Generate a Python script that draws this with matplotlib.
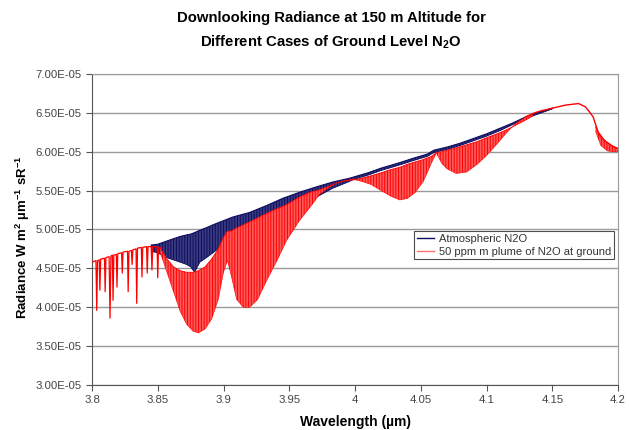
import numpy as np
import matplotlib.pyplot as plt
from matplotlib.lines import Line2D
from matplotlib.ticker import FuncFormatter, MultipleLocator

plt.rcParams['font.family'] = ['Liberation Sans', 'DejaVu Sans']
plt.rcParams['mathtext.fontset'] = 'custom'
plt.rcParams['mathtext.rm'] = 'Liberation Sans'
plt.rcParams['mathtext.bf'] = 'Liberation Sans:bold'
plt.rcParams['hatch.linewidth'] = 0.7

SCALE = 1e-5  # radiance values below are in units of 1E-05

# shared spectrum below 3.855 um: continuum with isolated absorption lines
sparse_wl = [3.800, 3.8030, 3.8036, 3.8042, 3.8055, 3.8060, 3.8066, 3.8095, 3.8100, 3.8106,
             3.8130, 3.8137, 3.8144, 3.8155, 3.8160, 3.8166, 3.8185, 3.8190, 3.8196, 3.8225,
             3.8230, 3.8236, 3.8270, 3.8275, 3.8281, 3.8300, 3.8305, 3.8311, 3.8335, 3.8340,
             3.8346, 3.8375, 3.8380, 3.8386, 3.8415, 3.8420, 3.8426, 3.8450, 3.8456, 3.8462,
             3.8495, 3.8500, 3.8506, 3.8530]
sparse_rad = [4.58, 4.60, 3.96, 4.60, 4.61, 4.22, 4.62, 4.63, 4.20, 4.64,
              4.65, 3.86, 4.66, 4.67, 4.09, 4.67, 4.68, 4.26, 4.69, 4.70,
              4.44, 4.71, 4.72, 4.20, 4.72, 4.73, 4.55, 4.74, 4.75, 4.05,
              4.76, 4.77, 4.39, 4.77, 4.78, 4.44, 4.78, 4.78, 4.48, 4.78,
              4.78, 4.38, 4.77, 4.76]

# atmospheric N2O: band of line structure (upper / lower envelope)
blue_wl = [3.845, 3.850, 3.855, 3.860, 3.867, 3.872, 3.875, 3.878, 3.882, 3.888, 3.892, 3.895,
           3.907, 3.920, 3.933, 3.945, 3.958, 3.971, 3.983, 3.996, 4.000, 4.010, 4.020,
           4.034, 4.045, 4.055, 4.060, 4.070, 4.080, 4.090, 4.100, 4.110, 4.120, 4.130,
           4.140, 4.150]
blue_hi = [4.80, 4.81, 4.84, 4.87, 4.91, 4.93, 4.94, 4.96, 4.99, 5.03, 5.06, 5.08,
           5.16, 5.22, 5.31, 5.40, 5.48, 5.55, 5.61, 5.66, 5.68, 5.73, 5.79,
           5.86, 5.92, 5.97, 6.02, 6.06, 6.11, 6.17, 6.23, 6.30, 6.37, 6.45,
           6.51, 6.56]
blue_lo = [4.72, 4.70, 4.65, 4.62, 4.58, 4.55, 4.52, 4.45, 4.58, 4.65, 4.70, 4.74,
           4.83, 4.93, 5.03, 5.16, 5.29, 5.42, 5.53, 5.62, 5.65, 5.70, 5.76,
           5.83, 5.89, 5.94, 5.99, 6.03, 6.08, 6.14, 6.20, 6.27, 6.35, 6.43,
           6.49, 6.55]

# 50 ppm m plume: first two absorption bands (3.85 - 3.99 um)
red_a_wl = [3.852, 3.857, 3.862, 3.867, 3.872, 3.877, 3.881, 3.886, 3.891, 3.896, 3.900,
            3.903, 3.906, 3.910, 3.915, 3.920, 3.926, 3.933, 3.941, 3.948, 3.958, 3.966,
            3.973, 3.979, 3.985, 3.990, 4.000]
red_a_hi = [4.76, 4.62, 4.52, 4.47, 4.45, 4.45, 4.47, 4.52, 4.62, 4.75, 4.90,
            4.98, 4.98, 5.02, 5.06, 5.10, 5.15, 5.21, 5.27, 5.32, 5.42, 5.48,
            5.51, 5.55, 5.59, 5.62, 5.65]
red_a_lo = [4.70, 4.45, 4.20, 3.95, 3.78, 3.69, 3.67, 3.72, 3.85, 4.10, 4.45,
            4.60, 4.40, 4.10, 4.00, 4.00, 4.10, 4.35, 4.61, 4.86, 5.12, 5.29,
            5.45, 5.53, 5.59, 5.62, 5.64]

# third band (4.00 - 4.062 um)
red_b_wl = [4.000, 4.005, 4.012, 4.020, 4.027, 4.034, 4.040, 4.046, 4.052, 4.058, 4.062]
red_b_hi = [5.64, 5.66, 5.69, 5.73, 5.77, 5.80, 5.84, 5.87, 5.90, 5.94, 5.99]
red_b_lo = [5.64, 5.62, 5.58, 5.50, 5.43, 5.38, 5.40, 5.48, 5.62, 5.85, 5.99]

# fourth band (4.062 - 4.135 um)
red_c_wl = [4.062, 4.066, 4.070, 4.077, 4.085, 4.093, 4.100, 4.108, 4.115, 4.122, 4.130, 4.135]
red_c_hi = [5.99, 6.00, 6.02, 6.05, 6.09, 6.13, 6.18, 6.23, 6.28, 6.34, 6.41, 6.46]
red_c_lo = [5.98, 5.85, 5.78, 5.72, 5.74, 5.84, 5.95, 6.10, 6.24, 6.36, 6.45, 6.48]

# common tail, both cases identical
tail_wl = [4.130, 4.135, 4.140, 4.150, 4.160, 4.165, 4.170, 4.175, 4.178,
           4.181, 4.185, 4.190, 4.195, 4.200]
tail_rad = [6.45, 6.49, 6.52, 6.56, 6.60, 6.61, 6.62, 6.58, 6.52,
            6.45, 6.25, 6.14, 6.08, 6.04]

# weak lines at the long-wave end
edge_wl = [4.183, 4.187, 4.192, 4.196, 4.200]
edge_hi = [6.32, 6.18, 6.12, 6.07, 6.04]
edge_lo = [6.26, 6.08, 6.01, 6.00, 6.00]

NAVY = '#0d0d5e'
RED = '#ff0000'


def s(v):
    return np.asarray(v) * SCALE


fig = plt.figure(figsize=(6.29, 4.30), dpi=100)
fig.patch.set_facecolor('white')
ax = fig.add_axes([92 / 629, 1 - 385 / 430, 526 / 629, 311 / 430])

# atmospheric case
ax.fill_between(blue_wl, s(blue_lo), s(blue_hi), facecolor='#3a3a80', edgecolor=NAVY,
                hatch='||||||', linewidth=0, zorder=2)
ax.plot(blue_wl, s(blue_hi), color=NAVY, lw=0.8, zorder=2)
ax.plot(blue_wl, s(blue_lo), color=NAVY, lw=0.6, zorder=2)

# plume case
for wl, hi, lo in [(red_a_wl, red_a_hi, red_a_lo), (red_b_wl, red_b_hi, red_b_lo),
                   (red_c_wl, red_c_hi, red_c_lo), (edge_wl, edge_hi, edge_lo)]:
    ax.fill_between(wl, s(lo), s(hi), facecolor='#ff5a5a', edgecolor=RED,
                    hatch='||||||', linewidth=0, zorder=3)
    ax.plot(wl, s(hi), color=RED, lw=0.6, zorder=3)
    ax.plot(wl, s(lo), color=RED, lw=0.5, alpha=0.8, zorder=3)
ax.plot(sparse_wl, s(sparse_rad), color=RED, lw=0.9, zorder=3)
ax.plot(tail_wl, s(tail_rad), color=RED, lw=1.0, zorder=3)

ax.set_xlim(3.8, 4.2)
ax.set_ylim(3e-5, 7e-5)
ax.xaxis.set_major_locator(MultipleLocator(0.05))
ax.yaxis.set_major_locator(MultipleLocator(0.5e-5))
ax.xaxis.set_major_formatter(FuncFormatter(lambda v, p: f'{v:.2f}'.rstrip('0').rstrip('.')))
ax.yaxis.set_major_formatter(FuncFormatter(lambda v, p: f'{v:.2E}'))
ax.grid(axis='y', color='#9a9a9a', lw=1.0, zorder=0)
ax.set_axisbelow(True)
for side in ['top', 'right']:
    ax.spines[side].set_color('#9a9a9a')
for side in ['left', 'bottom']:
    ax.spines[side].set_color('#555555')
ax.tick_params(direction='out', length=4, width=0.8, color='#555555',
               labelsize=8.2, labelcolor='#444444')

ax.set_xlabel('Wavelength (µm)', fontsize=10, fontweight='bold', labelpad=7)
fig.text(23 / 629, 1 - 237 / 430,
         r'Radiance W m$^\mathbf{2}$ µm$^\mathbf{-1}$ sR$^\mathbf{-1}$',
         rotation=90, ha='center', va='center', fontsize=9.5, fontweight='bold')

fig.text(331 / 629, 1 - 18 / 430, 'Downlooking Radiance at 150 m Altitude for',
         ha='center', va='center', fontsize=10.7, fontweight='bold')
fig.text(331 / 629, 1 - 42 / 430, r'Different Cases of Ground Level N$_\mathbf{2}$O',
         ha='center', va='center', fontsize=10.7, fontweight='bold')

handles = [Line2D([], [], color=NAVY, lw=1), Line2D([], [], color='#ff7070', lw=1)]
leg = ax.legend(handles, ['Atmospheric N2O', '50 ppm m plume of N2O at ground'],
                loc='upper left', bbox_to_anchor=(0.612, 0.495), fontsize=8,
                frameon=True, fancybox=False, borderpad=0.25, handlelength=1.6,
                handletextpad=0.4, labelspacing=0.25, borderaxespad=0)
leg.get_frame().set_edgecolor('#222222')
leg.get_frame().set_linewidth(0.8)
for t in leg.get_texts():
    t.set_color('#333333')

fig.savefig('out.png', dpi=100)
